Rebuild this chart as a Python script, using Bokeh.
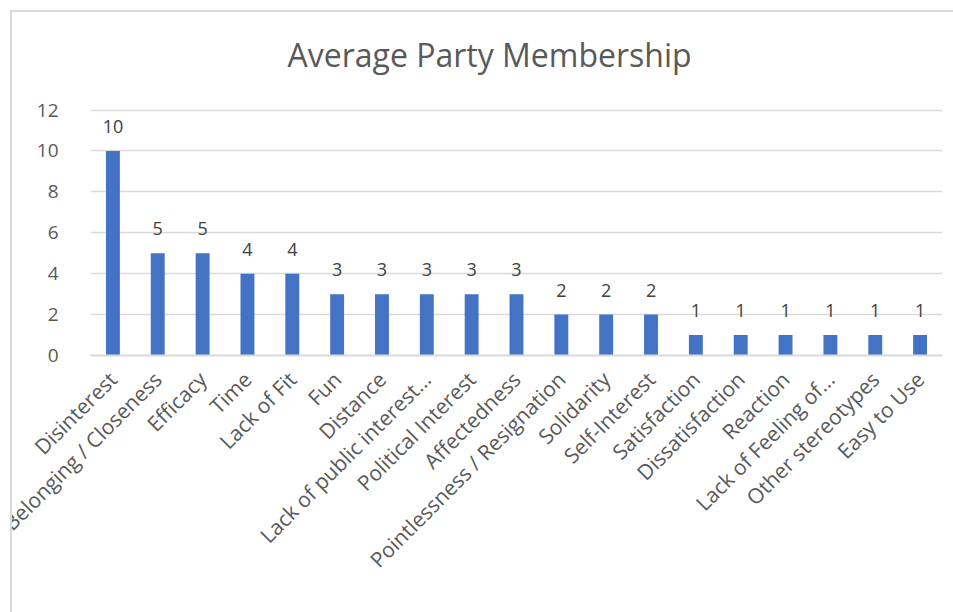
import math
from bokeh.plotting import figure
from bokeh.models import FactorRange, Range1d, FixedTicker, ColumnDataSource, Label
from bokeh.core.properties import value
from bokeh.embed import file_html
from bokeh.resources import INLINE

categories = ["Disinterest", "Belonging / Closeness", "Efficacy", "Time", "Lack of Fit",
              "Fun", "Distance", "Lack of public interest...", "Political Interest",
              "Affectedness", "Pointlessness / Resignation", "Solidarity", "Self-Interest",
              "Satisfaction", "Dissatisfaction", "Reaction", "Lack of Feeling of...",
              "Other stereotypes", "Easy to Use"]
values = [10, 5, 5, 4, 4, 3, 3, 3, 3, 3, 2, 2, 2, 1, 1, 1, 1, 1, 1]
y_ticks = [0, 2, 4, 6, 8, 10, 12]
title_text = "Average Party Membership"

FONT = "Open Sans"
GREY = "#595959"

# layout (pixels): axis max 12 sits 97px below the canvas top, axis height 244px
AXIS_MAX = 12
TOP_GAP = 97
AXIS_PX = 244
units_per_px = AXIS_MAX / AXIS_PX
y_end = AXIS_MAX + TOP_GAP * units_per_px
title_y = AXIS_MAX + (TOP_GAP - 42) * units_per_px

src = ColumnDataSource(dict(cat=categories, val=values, lab=[str(v) for v in values]))

p = figure(x_range=FactorRange(*categories, range_padding=0), y_range=Range1d(0, y_end),
           width=941, height=600, output_backend="svg", toolbar_location=None,
           min_border_left=78, min_border_right=13,
           min_border_top=0, min_border_bottom=259)
p.margin = (10, 0, 0, 10)
p.styles = {"border-top": "2px solid #d9d9d9", "border-left": "2px solid #d9d9d9",
            "box-sizing": "content-box"}

p.vbar(x="cat", top="val", width=0.31, source=src, color="#4472C4", line_color=None)
p.text(x="cat", y="val", text="lab", source=src, text_align="center",
       text_baseline="bottom", y_offset=-18, text_font=value(FONT),
       text_font_size="18px", text_color="#404040")

p.add_layout(Label(x=len(categories) / 2, x_offset=-27, y=title_y, text=title_text,
                   text_align="center", text_baseline="middle", text_font=FONT,
                   text_font_size="32px", text_color=GREY))

p.outline_line_color = None
p.xgrid.grid_line_color = None
p.ygrid.grid_line_color = "#d9d9d9"
p.ygrid.grid_line_width = 1.5
p.yaxis.ticker = FixedTicker(ticks=y_ticks)
p.yaxis.axis_line_color = None
p.yaxis.major_tick_line_color = None
p.yaxis.minor_tick_line_color = None
p.yaxis.major_label_text_font = FONT
p.yaxis.major_label_text_font_size = "19px"
p.yaxis.major_label_text_color = GREY
p.yaxis.major_label_standoff = 26

p.xaxis.axis_line_color = "#d9d9d9"
p.xaxis.axis_line_width = 2
p.xaxis.major_tick_line_color = None
p.xaxis.minor_tick_line_color = None
p.xaxis.major_label_orientation = math.pi / 4
p.xaxis.major_label_text_font = FONT
p.xaxis.major_label_text_font_size = "21px"
p.xaxis.major_label_text_color = GREY
p.xaxis.major_label_standoff = 14

open("out.html", "w").write(file_html(p, INLINE))
